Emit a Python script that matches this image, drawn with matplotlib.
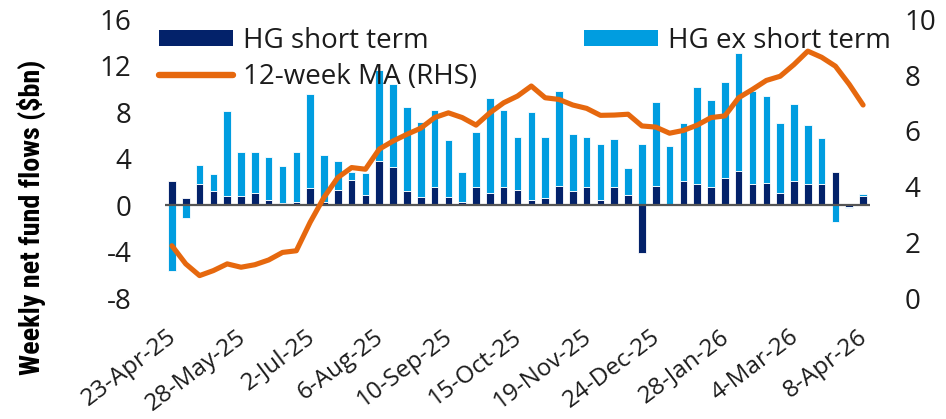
import numpy as np
import pandas as pd
import matplotlib
matplotlib.use("Agg")
import matplotlib.pyplot as plt
from matplotlib.patches import Patch
from matplotlib.lines import Line2D
from matplotlib import font_manager as fm
import matplotlib.transforms as mtransforms

# ---------------- data ----------------
weeks = pd.date_range("2025-04-23", periods=51, freq="7D")
hg_short = [2.1, 0.6, 1.8, 1.2, 0.8, 0.8, 1.1, 0.5, 0.2, 0.3,
            1.5, 0.3, 1.3, 2.2, 0.9, 3.8, 3.3, 1.2, 0.7, 1.6,
            0.7, 0.3, 1.6, 1.1, 1.6, 1.3, 0.5, 0.6, 1.7, 1.2,
            1.6, 0.5, 1.6, 0.9, -4.1, 1.7, 0.1, 2.1, 1.8, 1.6,
            2.4, 3.0, 1.8, 1.9, 1.1, 2.1, 1.8, 1.8, 2.9, -0.1, 0.8]
hg_ex_short = [-5.6, -1.1, 1.7, 1.5, 7.3, 3.8, 3.5, 3.7, 3.2, 4.3,
               8.1, 4.0, 2.5, 0.7, 1.9, 7.8, 7.1, 7.3, 6.5, 6.6,
               4.9, 2.6, 4.7, 8.1, 6.6, 4.6, 7.5, 5.3, 8.1, 4.9,
               4.3, 4.8, 4.1, 2.3, 5.3, 7.2, 5.0, 5.0, 8.4, 7.5,
               8.2, 10.1, 8.0, 7.5, 6.0, 6.6, 5.1, 4.0, -1.4, -0.1, 0.2]
ma_12w = [1.89, 1.24, 0.82, 1.00, 1.24, 1.12, 1.21, 1.38, 1.65, 1.71,
          2.73, 3.62, 4.33, 4.69, 4.63, 5.35, 5.64, 5.88, 6.10, 6.48,
          6.65, 6.48, 6.21, 6.65, 7.01, 7.25, 7.61, 7.19, 7.13, 6.93,
          6.81, 6.56, 6.57, 6.60, 6.18, 6.14, 5.92, 6.02, 6.21, 6.48,
          6.54, 7.19, 7.49, 7.81, 7.96, 8.38, 8.86, 8.64, 8.32, 7.67, 6.93]
tick_labels = ["23-Apr-25", "28-May-25", "2-Jul-25", "6-Aug-25", "10-Sep-25",
               "15-Oct-25", "19-Nov-25", "24-Dec-25", "28-Jan-26", "4-Mar-26", "8-Apr-26"]
left_ticks = [-8, -4, 0, 4, 8, 12, 16]
right_ticks = [0, 2, 4, 6, 8, 10]
series_names = ["HG short term", "HG ex short term", "12-week MA (RHS)"]

# ---------------- style ----------------
NAVY = "#03226A"
LIGHT = "#009DE0"
ORANGE = "#E6680E"
TXT = "#1c1c1c"
FONT = "Open Sans"

def has_font(name):
    try:
        fm.findfont(fm.FontProperties(family=name), fallback_to_default=False)
        return True
    except Exception:
        return False

plt.rcParams["font.family"] = [FONT, "DejaVu Sans"]

W, H = 946, 419
fig = plt.figure(figsize=(W / 100, H / 100), dpi=100)
ax = fig.add_axes([165 / W, 1 - 298.5 / H, 705 / W, 279.2 / H])

x = np.arange(len(weeks))
short = np.array(hg_short)
ex = np.array(hg_ex_short)
ex_bottom = np.where(np.sign(ex) == np.sign(short), short, 0.0)

bw = 0.55
ax.bar(x, short, width=bw, color=NAVY, edgecolor="white", linewidth=0.6, zorder=2)
ax.bar(x, ex, width=bw, bottom=ex_bottom, color=LIGHT, edgecolor="white", linewidth=0.6, zorder=2)
ax.axhline(0, color="#555555", lw=1.6, zorder=3)

ax.set_xlim(-0.5, len(weeks) - 0.5)
ax.set_ylim(-8, 16)
ax.set_yticks(left_ticks)
ax.set_yticklabels([str(t) for t in left_ticks], fontsize=20, color=TXT)
ax.tick_params(axis="y", length=0, pad=24)

tick_pos = x[::5]
ax.set_xticks(tick_pos)
ax.set_xticklabels(tick_labels, rotation=37, ha="right", va="center",
                   rotation_mode="anchor", fontsize=17.5, color=TXT)
ax.tick_params(axis="x", length=0, pad=26)
shift = mtransforms.ScaledTranslation(2 / 100, 0, fig.dpi_scale_trans)
for lbl in ax.get_xticklabels():
    lbl.set_transform(lbl.get_transform() + shift)

for s in ax.spines.values():
    s.set_visible(False)

ax2 = ax.twinx()
ax2.plot(x, ma_12w, color=ORANGE, lw=3.7, solid_capstyle="round",
         solid_joinstyle="round", zorder=4)
ax2.set_ylim(0, 10)
ax2.set_yticks(right_ticks)
ax2.set_yticklabels([str(t) for t in right_ticks], fontsize=20, color=TXT)
ax2.tick_params(axis="y", length=0, pad=25)
for s in ax2.spines.values():
    s.set_visible(False)

handles = [Patch(facecolor=NAVY, edgecolor="none"),
           Line2D([0], [0], color=ORANGE, lw=4.6, solid_capstyle="round"),
           Patch(facecolor=LIGHT, edgecolor="none")]
labels = [series_names[0], series_names[2], series_names[1]]
leg = ax2.legend(handles, labels, ncol=2, loc="upper left",
                 bbox_to_anchor=(159 / W, 1 - 27 / H), bbox_transform=fig.transFigure,
                 frameon=False, fontsize=20, handlelength=2.66, handleheight=0.5,
                 handletextpad=0.36, columnspacing=3.85, labelspacing=0.29,
                 borderpad=0, borderaxespad=0)
for t in leg.get_texts():
    t.set_color(TXT)

# y-axis title (condensed bold), sized to match the reference length
ylab_family = next((f for f in ["Liberation Sans Narrow", "DejaVu Sans Condensed",
                                "Roboto Condensed"] if has_font(f)), "Liberation Sans")
ylab = fig.text(31 / W, 1 - 217.5 / H, "Weekly net fund flows ($bn)", rotation=90,
                ha="center", va="center", family=[ylab_family, "DejaVu Sans"],
                weight="bold", fontsize=20, color="black")
fig.canvas.draw()
ext = ylab.get_window_extent()
ylab.set_fontsize(20 * 315 / ext.height)

fig.savefig("out.png", dpi=100)
